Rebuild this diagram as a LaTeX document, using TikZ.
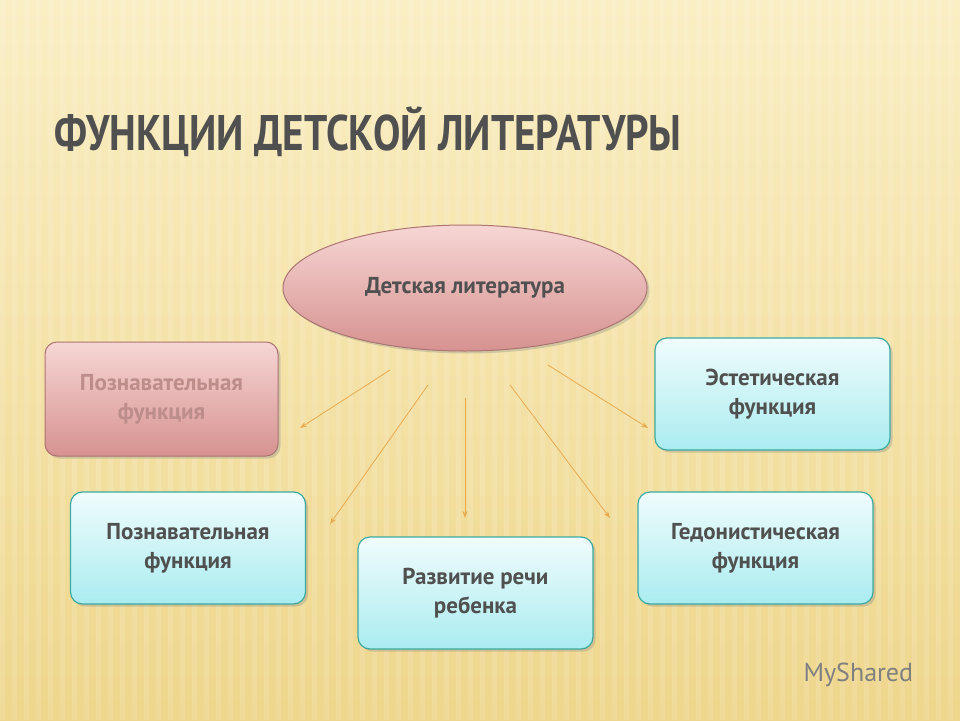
\documentclass[tikz,border=0pt]{standalone}
\usepackage{fontspec}
\setmainfont{PT Sans}
\usetikzlibrary{shapes.geometric,arrows.meta,shadows}
\definecolor{bgA}{RGB}{250,238,196}
\definecolor{bgB}{RGB}{238,214,140}
\definecolor{pinkA}{RGB}{246,214,212}
\definecolor{pinkB}{RGB}{214,146,144}
\definecolor{cyanA}{RGB}{240,252,252}
\definecolor{cyanB}{RGB}{170,236,240}
\definecolor{cyanE}{RGB}{60,170,160}
\definecolor{arr}{RGB}{232,170,80}
\definecolor{txt}{RGB}{80,80,80}
\tikzset{
 cbox/.style={draw=cyanE,line width=1.2pt,rounded corners=12pt,top color=cyanA,bottom color=cyanB,minimum width=235pt,minimum height=112pt,align=center,font=\bfseries\fontsize{23}{29}\selectfont,text=txt,drop shadow={opacity=0.3}},
 pbox/.style={draw=pinkB!80!black,line width=1pt,rounded corners=12pt,top color=pinkA,bottom color=pinkB,minimum width=233pt,minimum height=114pt,align=center,font=\bfseries\fontsize{23}{29}\selectfont,text=pinkB!70!gray,drop shadow={opacity=0.3}},
 fl/.style={draw=arr,line width=0.8pt,-{Stealth[length=7pt,width=5pt]}}
}
\begin{document}
\begin{tikzpicture}[x=1pt,y=-1pt]
\useasboundingbox (0,0) rectangle (960,720);
\shade[top color=bgA,bottom color=bgB] (0,0) rectangle (960,720);
\foreach \i in {0,12,...,960} \fill[white,opacity=0.12] (\i,0) rectangle (\i+5,720);
\node[anchor=west,text=txt,font=\bfseries\fontsize{50}{54}\selectfont,xscale=0.82,transform shape] (title) at (52,132) {ФУНКЦИИ ДЕТСКОЙ ЛИТЕРАТУРЫ};
\node[ellipse,draw=pinkB!80!black,line width=1pt,top color=pinkA,bottom color=pinkB,minimum width=364pt,minimum height=126pt,font=\bfseries\fontsize{23}{29}\selectfont,text=txt,drop shadow={opacity=0.3}] (root) at (465,288) {Детская литература};
\node[pbox] (p1) at (161.5,399) {Познавательная\\функция};
\node[cbox] (e) at (772.5,394) {Эстетическая\\функция};
\node[cbox] (p2) at (188,548) {Познавательная\\функция};
\node[cbox] (r) at (475.5,593) {Развитие речи\\ребенка};
\node[cbox] (g) at (755.5,548) {Гедонистическая\\функция};
\coordinate (s1) at (390,370); \coordinate (t1) at (300,428);
\coordinate (s2) at (428,385); \coordinate (t2) at (330,524);
\coordinate (s3) at (465,398); \coordinate (t3) at (465,518);
\coordinate (s4) at (510,385); \coordinate (t4) at (610,518);
\coordinate (s5) at (548,365); \coordinate (t5) at (648,428);
\draw[fl] (s1)--(t1); \draw[fl] (s2)--(t2); \draw[fl] (s3)--(t3); \draw[fl] (s4)--(t4); \draw[fl] (s5)--(t5);
\node[text=gray,font=\fontsize{26}{28}\selectfont,anchor=west] (logo) at (800,675) {MyShared};
\end{tikzpicture}
\end{document}
